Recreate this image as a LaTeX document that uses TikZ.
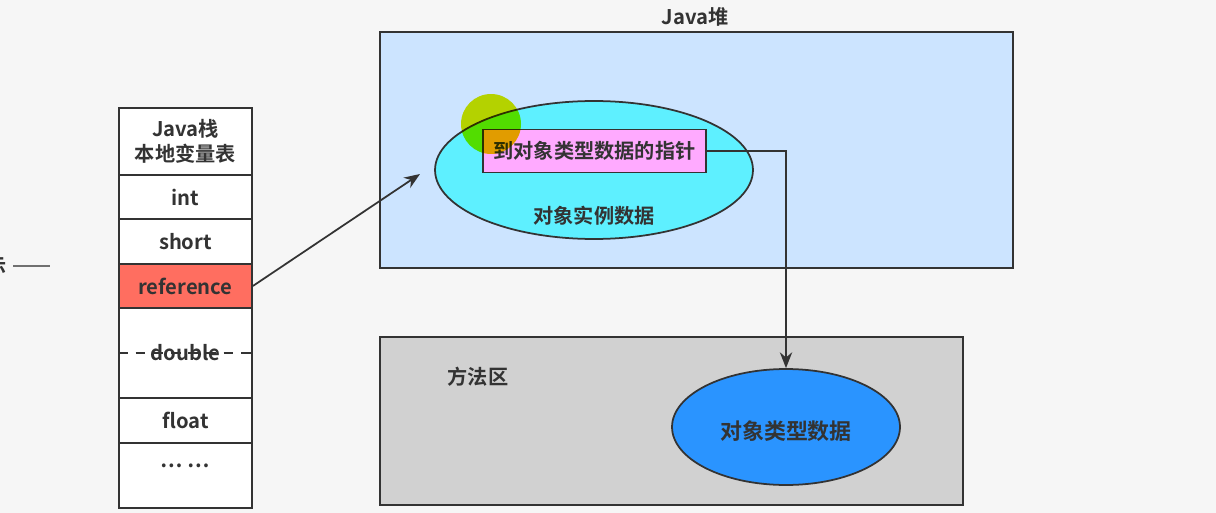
\documentclass[tikz,border=0pt]{standalone}
\usepackage{fontspec}
\setmainfont{Noto Sans CJK SC}[BoldFont={Noto Sans CJK SC Bold}]
\usepackage{tikz}
\usetikzlibrary{positioning,arrows.meta,shapes.geometric}
\definecolor{bggray}{HTML}{F6F6F6}
\definecolor{ink}{HTML}{333333}
\definecolor{heapblue}{HTML}{CCE4FF}
\definecolor{instcyan}{HTML}{5EF0FF}
\definecolor{ptrpink}{HTML}{FFAAFF}
\definecolor{refred}{HTML}{FF6E60}
\definecolor{areagray}{HTML}{D1D1D1}
\definecolor{typeblue}{HTML}{2A94FF}
\definecolor{hilite}{RGB}{225,235,0}
\tikzset{
  every node/.style={font=\fontsize{11.5}{14.5}\selectfont\bfseries, text=ink},
  slot/.style={draw=ink, line width=1pt, fill=white, inner sep=0pt,
    minimum width=2.66cm},
  region/.style={draw=ink, line width=1pt, inner sep=0pt},
  blob/.style={ellipse, draw=ink, line width=1pt, inner sep=0pt},
  conn/.style={draw=ink, line width=1pt, -{Stealth[length=9pt,width=7pt]}}
}

\begin{document}
\begin{tikzpicture}[x=0.02cm, y=-0.02cm]
\useasboundingbox[fill=bggray] (0,0) rectangle (1216,513);

\node (cut) at (-3,266) {示};
\coordinate (cuta) at (13,266);
\coordinate (cutb) at (50,266);
\draw[ink!70, line width=0.6pt] (cuta) -- (cutb);

\node[slot, minimum height=1.34cm, align=center] (head) at (185.5,141.5) {Java栈\\本地变量表};
\node[slot, minimum height=0.88cm] (int) at (185.5,197) {int};
\node[slot, minimum height=0.9cm] (short) at (185.5,241.5) {short};
\node[slot, minimum height=0.88cm, fill=refred] (ref) at (185.5,286) {reference};
\node[slot, minimum height=1.8cm] (double) at (185.5,353) {double};
\node[slot, minimum height=0.9cm] (float) at (185.5,420.5) {float};
\node[slot, minimum height=1.3cm] (more) at (185.5,475.5) {};
\node (moretext) at (185.5,466) {\dots\ \dots};
\draw[ink, line width=1pt, dash pattern=on 5.5pt off 4.5pt] (double.west) -- (double.east);

\node (heaplabel) at (695,17) {Java堆};
\node[region, fill=heapblue, minimum width=12.66cm, minimum height=4.72cm] (heap) at (696.5,150) {};
\node[blob, fill=instcyan, minimum width=6.36cm, minimum height=2.76cm] (inst) at (594,170) {};
\node (insttext) at (594,216) {对象实例数据};
\node[region, fill=ptrpink, minimum width=4.46cm, minimum height=0.86cm] (ptr) at (594.5,151) {到对象类型数据的指针};

\node[region, fill=areagray, minimum width=11.66cm, minimum height=3.36cm] (area) at (671.5,421) {};
\node (arealabel) at (478,377) {方法区};
\node[blob, fill=typeblue, minimum width=4.56cm, minimum height=2.32cm] (type) at (786,427) {};
\node[font=\fontsize{12.5}{15}\selectfont\bfseries] (typetext) at (786,431) {对象类型数据};

\coordinate (reftip) at (420,174);
\draw[conn] (ref.east) -- (reftip);
\draw[conn] (ptr.east) -| (type.north);

\fill[hilite, blend mode=multiply] (491,124) circle (0.6cm);
\end{tikzpicture}
\end{document}
